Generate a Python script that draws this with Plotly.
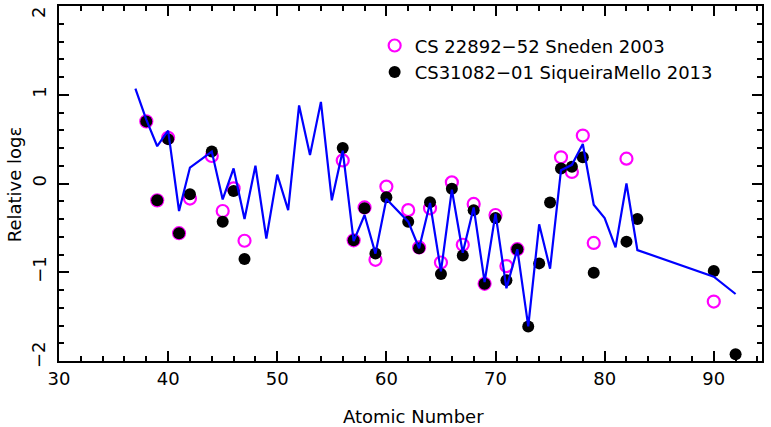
import plotly.graph_objects as go

# Blue line (scaled pattern)
line_z = [37, 38, 39, 40, 41, 42, 44, 45, 46, 47, 48, 49, 50, 51, 52, 53, 54, 55, 56, 57, 58, 59, 60,
          62, 63, 64, 65, 66, 67, 68, 69, 70, 71, 72, 73, 74, 75, 76, 77, 78, 79, 80, 81, 82, 83, 90, 92]
line_v = [1.07, 0.72, 0.42, 0.595, -0.31, 0.18, 0.36, -0.18, 0.17, -0.40, 0.20, -0.62, 0.10, -0.30, 0.88,
          0.32, 0.92, -0.19, 0.37, -0.65, -0.355, -0.79, -0.175,
          -0.43, -0.73, -0.22, -0.99, -0.07, -0.78, -0.27, -1.11, -0.34, -1.18, -0.74, -1.61, -0.46,
          -0.96, 0.15, 0.21, 0.445, -0.24, -0.39, -0.72, 0.0, -0.75, -1.05, -1.245]

# CS 22892-52 Sneden 2003
sneden_z = [38, 39, 40, 41, 42, 44, 45, 46, 47, 56, 57, 58, 59, 60, 62, 63, 64, 65, 66, 67, 68, 69,
            70, 71, 72, 76, 77, 78, 79, 82, 90]
sneden_v = [0.70, -0.19, 0.515, -0.56, -0.17, 0.31, -0.31, -0.055, -0.645, 0.26, -0.64, -0.27, -0.86,
            -0.035, -0.30, -0.72, -0.28, -0.89, 0.013, -0.69, -0.23, -1.13, -0.355, -0.93, -0.74,
            0.295, 0.13, 0.54, -0.67, 0.28, -1.33]

# CS31082-01 SiqueiraMello 2013
sm_z = [38, 39, 40, 41, 42, 44, 45, 46, 47, 56, 57, 58, 59, 60, 62, 63, 64, 65, 66, 67, 68, 69, 70,
        71, 72, 73, 74, 75, 76, 77, 78, 79, 82, 83, 90, 92]
sm_v = [0.70, -0.19, 0.50, -0.56, -0.12, 0.36, -0.43, -0.085, -0.85, 0.40, -0.64, -0.28, -0.79,
        -0.155, -0.43, -0.73, -0.21, -1.02, -0.06, -0.81, -0.30, -1.13, -0.39, -1.09, -0.74, -1.61,
        -0.90, -0.215, 0.17, 0.19, 0.295, -1.005, -0.655, -0.40, -0.985, -1.925]

x_ticks = [30, 40, 50, 60, 70, 80, 90]
y_ticks = [-2, -1, 0, 1, 2]
y_ticklabels = ["\u22122", "\u22121", "0", "1", "2"]

FONT = "DejaVu Sans"

fig = go.Figure()
fig.add_trace(go.Scatter(
    x=sneden_z, y=sneden_v, mode="markers", name="CS 22892\u221252 Sneden 2003",
    marker=dict(symbol="circle-open", size=12, color="#ff00ff", line=dict(width=2.2, color="#ff00ff")),
))
fig.add_trace(go.Scatter(
    x=sm_z, y=sm_v, mode="markers", name="CS31082\u221201 SiqueiraMello 2013",
    marker=dict(symbol="circle", size=12, color="black"),
))
fig.add_trace(go.Scatter(
    x=line_z, y=line_v, mode="lines", showlegend=False,
    line=dict(color="#0000ff", width=2.2),
))

axis_common = dict(
    showline=True, linecolor="black", linewidth=2, mirror="allticks",
    ticks="inside", ticklen=10, tickwidth=1.5, tickcolor="black",
    showgrid=False, zeroline=False, automargin=False, ticklabeloverflow="allow",
    tickfont=dict(family=FONT, size=18, color="black"),
)

fig.update_xaxes(
    range=[30, 94.42], tickvals=x_ticks, ticktext=[str(v) for v in x_ticks],
    minor=dict(dtick=2, tick0=30, ticks="inside", ticklen=5, tickwidth=1.5, tickcolor="black"),
    **axis_common,
)
# Inner y tick labels drawn by the axis; the two edge labels are nudged inward (as in the reference)
inner_text = [t if abs(v) < 2 else "" for v, t in zip(y_ticks, y_ticklabels)]
fig.update_yaxes(
    range=[-2, 2], tickvals=y_ticks, ticktext=inner_text, tickangle=-90, ticklabelstandoff=4,
    minor=dict(dtick=0.2, tick0=0, ticks="inside", ticklen=5, tickwidth=1.5, tickcolor="black"),
    **axis_common,
)
for v, t in zip(y_ticks, y_ticklabels):
    if abs(v) == 2:
        fig.add_annotation(text=t, xref="paper", yref="y", x=-0.0299, y=v,
                           xanchor="center", yanchor="middle", showarrow=False, textangle=-90,
                           yshift=-6 if v > 0 else 7,
                           font=dict(family=FONT, size=18, color="black"))

fig.add_annotation(text="Atomic Number", xref="paper", yref="paper", x=0.5036, y=-0.155,
                   xanchor="center", yanchor="middle", showarrow=False, borderpad=0,
                   font=dict(family=FONT, size=18, color="black"))
fig.add_annotation(text="Relative log\u03b5", xref="paper", yref="paper", x=-0.064, y=0.495,
                   xanchor="center", yanchor="middle", showarrow=False, textangle=-90,
                   font=dict(family=FONT, size=18, color="black"))

fig.update_layout(
    width=771, height=427,
    margin=dict(l=59, r=9, t=6, b=66),
    paper_bgcolor="white", plot_bgcolor="white",
    font=dict(family=FONT, size=18, color="black"),
    legend=dict(x=0.449, y=0.94, xanchor="left", yanchor="top",
                bgcolor="rgba(0,0,0,0)", font=dict(family=FONT, size=18, color="black"),
                itemwidth=30, tracegroupgap=0),
)

fig.write_html("out.html", config={"displayModeBar": False},
               post_script="document.body.style.margin='0';document.body.style.padding='0';")
